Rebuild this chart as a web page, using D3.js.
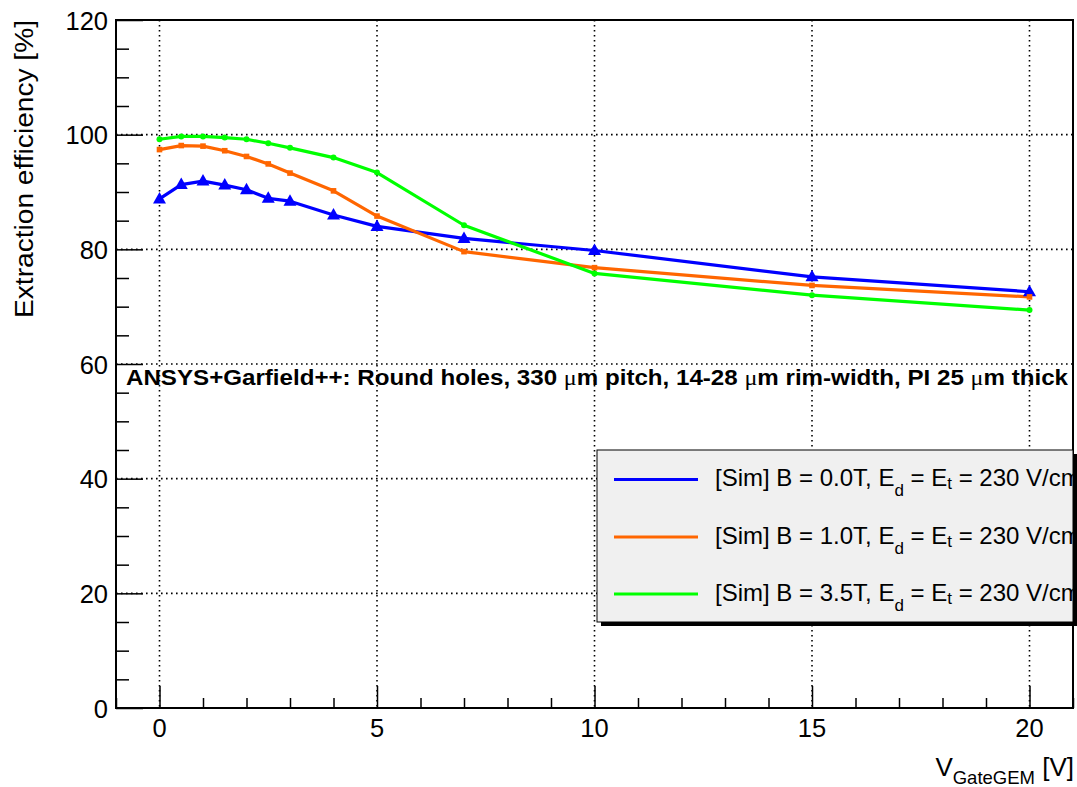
<!DOCTYPE html>
<html>
<head>
<meta charset="utf-8">
<script src="https://cdn.jsdelivr.net/npm/d3@7"></script>
<style>
  html, body { margin: 0; padding: 0; background: #fff; }
  svg { display: block; font-family: "Liberation Sans", Arial, Helvetica, sans-serif; }
</style>
</head>
<body>
<svg id="chart" width="1077" height="787"></svg>
<script>
// Gate GEM voltage scan points [V]
const gateVoltages = [0, 0.5, 1, 1.5, 2, 2.5, 3, 4, 5, 7, 10, 15, 20];

// Extraction efficiency [%] for each magnetic field setting
const effB00 = [88.8, 91.3, 91.9, 91.2, 90.4, 88.9, 88.4, 86.0, 84.0, 81.9, 79.8, 75.2, 72.6];
const effB10 = [97.4, 98.1, 98.0, 97.2, 96.2, 94.9, 93.3, 90.2, 85.8, 79.6, 76.8, 73.7, 71.7];
const effB35 = [99.2, 99.7, 99.7, 99.5, 99.2, 98.5, 97.7, 96.0, 93.4, 84.2, 75.8, 72.0, 69.4];

const seriesNames = ["B = 0.0T", "B = 1.0T", "B = 3.5T"];
const seriesColors = ["#0000ff", "#ff6600", "#00ff00"];
const seriesMarkers = ["triangle", "square", "circle"];

const xTicks = [0, 5, 10, 15, 20];
const yTicks = [0, 20, 40, 60, 80, 100, 120];

const series = [effB00, effB10, effB35].map((vals, i) => ({
  name: seriesNames[i],
  color: seriesColors[i],
  marker: seriesMarkers[i],
  points: gateVoltages.map((v, j) => ({ x: v, y: vals[j] }))
}));

const svg = d3.select("#chart");
const frame = { left: 116, right: 1073, top: 20, bottom: 708 };

const x = d3.scaleLinear().domain([-1, 21]).range([frame.left, frame.right]);
const y = d3.scaleLinear().domain([0, 120]).range([frame.bottom, frame.top]);

// Dotted grid at major ticks
const grid = svg.append("g")
  .attr("stroke", "#000").attr("stroke-width", 1.6)
  .attr("stroke-dasharray", "1.6,3.4");
grid.selectAll("line.gx").data(xTicks).join("line")
  .attr("x1", d => x(d)).attr("x2", d => x(d))
  .attr("y1", frame.top).attr("y2", frame.bottom);
grid.selectAll("line.gy").data(yTicks.filter(d => d > 0 && d < 120)).join("line")
  .attr("x1", frame.left).attr("x2", frame.right)
  .attr("y1", d => y(d)).attr("y2", d => y(d));

// Axes: ticks inside the frame, labels outside
const yAxis = d3.axisLeft(y).tickValues(d3.range(0, 121, 5)).tickSize(0).tickFormat("");
const xAxis = d3.axisBottom(x).tickValues(d3.range(-1, 22, 1)).tickSize(0).tickFormat("");

const yg = svg.append("g").attr("transform", `translate(${frame.left},0)`).call(yAxis);
yg.select(".domain").remove();
yg.selectAll(".tick line")
  .attr("x2", d => (d % 20 === 0 ? 27 : 13))
  .attr("stroke", "#000").attr("stroke-width", 1.5);

const xg = svg.append("g").attr("transform", `translate(0,${frame.bottom})`).call(xAxis);
xg.select(".domain").remove();
xg.selectAll(".tick line")
  .attr("y2", d => (d % 5 === 0 ? -22 : -10))
  .attr("stroke", "#000").attr("stroke-width", 1.5);

// Tick labels
svg.append("g").selectAll("text").data(yTicks).join("text")
  .attr("x", frame.left - 8).attr("y", d => y(d) + 9.5)
  .attr("text-anchor", "end").attr("font-size", 25.5).attr("fill", "#000")
  .text(d => d);
svg.append("g").selectAll("text").data(xTicks).join("text")
  .attr("x", d => x(d)).attr("y", frame.bottom + 29)
  .attr("text-anchor", "middle").attr("font-size", 25.5).attr("fill", "#000")
  .text(d => d);

// Frame
svg.append("rect")
  .attr("x", frame.left).attr("y", frame.top)
  .attr("width", frame.right - frame.left).attr("height", frame.bottom - frame.top)
  .attr("fill", "none").attr("stroke", "#000").attr("stroke-width", 2);

// Axis titles
svg.append("text")
  .attr("transform", `translate(33,20) rotate(-90)`)
  .attr("text-anchor", "end").attr("font-size", 25).attr("fill", "#000")
  .attr("textLength", 298).attr("lengthAdjust", "spacingAndGlyphs")
  .text("Extraction efficiency [%]");

const xTitle = svg.append("text")
  .attr("x", 1074).attr("y", 776)
  .attr("text-anchor", "end").attr("font-size", 26).attr("fill", "#000");
xTitle.append("tspan").text("V");
xTitle.append("tspan").attr("font-size", 18.5).attr("dy", 8).text("GateGEM");
xTitle.append("tspan").attr("dy", -8).text(" [V]");

// Curves
const line = d3.line().x(d => x(d.x)).y(d => y(d.y));
const plot = svg.append("g");
series.forEach(s => {
  plot.append("path")
    .datum(s.points)
    .attr("fill", "none").attr("stroke", s.color)
    .attr("stroke-width", 3.2).attr("stroke-linejoin", "round")
    .attr("d", line);
});

// Markers
const triangle = "M0,-7L6.5,4.5L-6.5,4.5Z";
series.forEach(s => {
  const g = plot.append("g").attr("fill", s.color);
  const pts = g.selectAll("*").data(s.points);
  if (s.marker === "triangle") {
    pts.join("path").attr("d", triangle)
      .attr("transform", d => `translate(${x(d.x)},${y(d.y)})`);
  } else if (s.marker === "square") {
    pts.join("rect")
      .attr("x", d => x(d.x) - 2.8).attr("y", d => y(d.y) - 2.8)
      .attr("width", 5.6).attr("height", 5.6);
  } else {
    pts.join("circle")
      .attr("cx", d => x(d.x)).attr("cy", d => y(d.y)).attr("r", 3);
  }
});

// Simulation setup note
const note = svg.append("text")
  .attr("x", 126).attr("y", 385)
  .attr("font-size", 21.5).attr("font-weight", "bold").attr("fill", "#000")
  .attr("textLength", 942).attr("lengthAdjust", "spacingAndGlyphs");
const noteParts = [
  ["ANSYS+Garfield++: Round holes, 330 ", false], ["\u03bc", true], ["m pitch, 14-28 ", false],
  ["\u03bc", true], ["m rim-width, PI 25 ", false], ["\u03bc", true], ["m thick", false]
];
noteParts.forEach(([t, greek]) => {
  const ts = note.append("tspan").text(t);
  if (greek) ts.attr("font-family", "'Liberation Serif', serif").attr("font-weight", "normal");
});

// Legend (its right part runs past the frame edge and is clipped there)
const lx = 597, ly = 450, lw = 476, lh = 172;
svg.append("defs").append("clipPath").attr("id", "legendClip")
  .append("rect").attr("x", lx).attr("y", ly).attr("width", lw).attr("height", lh);
const legend = svg.append("g");
legend.append("rect").attr("x", lx + 4).attr("y", ly + 4).attr("width", lw).attr("height", lh).attr("fill", "#000");
legend.append("rect").attr("x", lx).attr("y", ly).attr("width", lw).attr("height", lh)
  .attr("fill", "#f0f0f0").attr("stroke", "#000").attr("stroke-width", 1);

const rows = legend.append("g").attr("clip-path", "url(#legendClip)");
const rowY = [479.5, 537, 594];
series.forEach((s, i) => {
  rows.append("line")
    .attr("x1", 614).attr("x2", 698).attr("y1", rowY[i]).attr("y2", rowY[i])
    .attr("stroke", s.color).attr("stroke-width", 3.2);
  const t = rows.append("text")
    .attr("x", 715).attr("y", rowY[i] + 6.5)
    .attr("font-size", 24).attr("fill", "#000");
  t.append("tspan").text(`[Sim] ${s.name}, E`);
  t.append("tspan").attr("font-size", 17).attr("dy", 10).text("d");
  t.append("tspan").attr("dy", -10).text(" = E");
  t.append("tspan").attr("font-size", 17).attr("dy", 3).text("t");
  t.append("tspan").attr("dy", -3).text(" = 230 V/cm");
});
</script>
</body>
</html>
